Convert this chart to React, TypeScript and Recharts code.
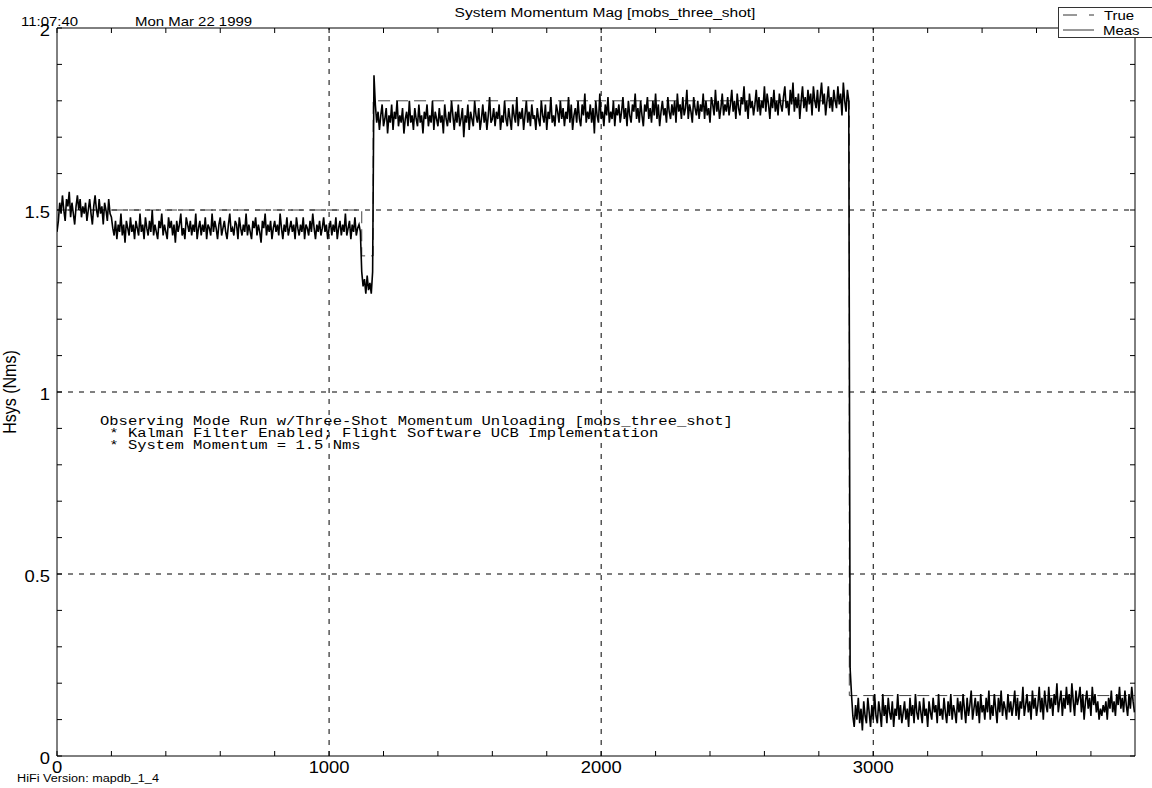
import React from 'react';
import { LineChart, Line, XAxis, YAxis, ReferenceLine } from 'recharts';

// Sample spacing of the measured momentum record, seconds
const SAMPLE_STEP = 5;

// Measured |H| segments (Nms), each with its start time (s)
const measStartA = 0;
const measSegA = [
  1.44, 1.47, 1.52, 1.49, 1.54, 1.50, 1.47, 1.53, 1.51, 1.55, 1.48, 1.52, 1.49, 1.46, 1.51, 1.54, 1.50, 1.53, 1.48, 1.51,
  1.49, 1.52, 1.47, 1.50, 1.53, 1.49, 1.46, 1.51, 1.54, 1.50, 1.48, 1.53, 1.49, 1.51, 1.46, 1.52, 1.50, 1.47, 1.53, 1.49,
];

const measStartB = 200;
const measSegB = [
  1.48, 1.45, 1.43, 1.47, 1.42, 1.46, 1.44, 1.49, 1.43, 1.46, 1.41, 1.47, 1.45, 1.43, 1.48, 1.44, 1.46, 1.42, 1.47, 1.45,
  1.43, 1.49, 1.44, 1.46, 1.42, 1.48, 1.45, 1.43, 1.47, 1.44, 1.50, 1.43, 1.46, 1.44, 1.42, 1.47, 1.45, 1.49, 1.43, 1.46,
  1.44, 1.42, 1.48, 1.45, 1.47, 1.43, 1.46, 1.41, 1.47, 1.44, 1.46, 1.49, 1.43, 1.45, 1.42, 1.48, 1.46, 1.44, 1.47, 1.43,
  1.46, 1.44, 1.49, 1.42, 1.45, 1.47, 1.43, 1.46, 1.44, 1.48, 1.42, 1.46, 1.45, 1.43, 1.49, 1.44, 1.47, 1.45, 1.42, 1.46,
  1.48, 1.43, 1.45, 1.47, 1.44, 1.42, 1.46, 1.49, 1.44, 1.45, 1.43, 1.47, 1.46, 1.42, 1.48, 1.45, 1.43, 1.46, 1.44, 1.49,
  1.43, 1.46, 1.44, 1.42, 1.47, 1.45, 1.48, 1.43, 1.46, 1.44, 1.41, 1.47, 1.45, 1.49, 1.43, 1.46, 1.44, 1.47, 1.42, 1.45,
  1.47, 1.44, 1.46, 1.43, 1.49, 1.45, 1.42, 1.46, 1.44, 1.48, 1.43, 1.45, 1.47, 1.44, 1.46, 1.42, 1.48, 1.45, 1.43, 1.46,
  1.44, 1.48, 1.42, 1.46, 1.45, 1.43, 1.47, 1.44, 1.49, 1.45, 1.42, 1.46, 1.44, 1.47, 1.43, 1.45, 1.48, 1.44, 1.46, 1.42,
  1.45, 1.47, 1.43, 1.46, 1.44, 1.48, 1.42, 1.45, 1.47, 1.43, 1.46, 1.44, 1.49, 1.43, 1.45, 1.47, 1.42, 1.46, 1.44, 1.48,
  1.43, 1.45, 1.46, 1.44,
];

const measStartC = 1120;
const measSegC = [1.33, 1.29, 1.31, 1.27, 1.32, 1.28, 1.30, 1.27, 1.33];

const measStartD = 1165;
const measSegD = [
  1.87, 1.79, 1.74, 1.77, 1.72, 1.76, 1.79, 1.73, 1.75, 1.78, 1.71, 1.76, 1.74, 1.79, 1.72, 1.77, 1.75, 1.80, 1.73, 1.76,
  1.74, 1.78, 1.71, 1.75, 1.77, 1.73, 1.80, 1.74, 1.76, 1.72, 1.78, 1.75, 1.73, 1.79, 1.74, 1.76, 1.71, 1.77, 1.75, 1.79,
  1.73, 1.76, 1.74, 1.80, 1.72, 1.77, 1.75, 1.73, 1.78, 1.74, 1.76, 1.71, 1.79, 1.75, 1.73, 1.77, 1.74, 1.80, 1.76, 1.72,
  1.77, 1.74, 1.79, 1.73, 1.75, 1.78, 1.70, 1.76, 1.74, 1.79, 1.72, 1.77, 1.75, 1.73, 1.80, 1.76, 1.74, 1.78, 1.72, 1.75,
  1.79, 1.74, 1.77, 1.72, 1.76, 1.81, 1.74, 1.75, 1.78, 1.73, 1.77, 1.75, 1.79, 1.72, 1.76, 1.74, 1.80, 1.75, 1.73, 1.78,
  1.75, 1.72, 1.79, 1.76, 1.74, 1.81, 1.73, 1.77, 1.75, 1.78, 1.72, 1.76, 1.80, 1.74, 1.77, 1.73, 1.79, 1.75, 1.76, 1.72,
  1.78, 1.75, 1.73, 1.80, 1.76, 1.74, 1.79, 1.72, 1.77, 1.75, 1.81, 1.74, 1.76, 1.73, 1.79, 1.77, 1.74, 1.80, 1.75, 1.78,
  1.73, 1.77, 1.75, 1.81, 1.74, 1.79, 1.72, 1.76, 1.78, 1.74, 1.80, 1.75, 1.73, 1.79, 1.76, 1.82, 1.74, 1.77, 1.75, 1.79,
  1.74, 1.78, 1.71, 1.80, 1.76, 1.74, 1.82, 1.75, 1.77, 1.73, 1.79, 1.76, 1.81, 1.74, 1.77, 1.75, 1.80, 1.73, 1.78, 1.76,
  1.79, 1.74, 1.77, 1.81, 1.75, 1.78, 1.73, 1.80, 1.76, 1.74, 1.79, 1.77, 1.82, 1.75, 1.78, 1.74, 1.80, 1.76, 1.73, 1.79,
  1.77, 1.81, 1.75, 1.78, 1.74, 1.80, 1.76, 1.82, 1.75, 1.79, 1.73, 1.77, 1.80, 1.76, 1.78, 1.74, 1.81, 1.77, 1.75, 1.79,
  1.76, 1.80, 1.74, 1.82, 1.77, 1.79, 1.75, 1.81, 1.76, 1.78, 1.83, 1.75, 1.79, 1.77, 1.74, 1.81, 1.78, 1.76, 1.80, 1.75,
  1.79, 1.77, 1.82, 1.75, 1.80, 1.76, 1.78, 1.74, 1.81, 1.79, 1.76, 1.83, 1.77, 1.80, 1.75, 1.78, 1.82, 1.76, 1.79, 1.77,
  1.81, 1.76, 1.79, 1.83, 1.77, 1.80, 1.75, 1.82, 1.78, 1.76, 1.81, 1.79, 1.84, 1.77, 1.80, 1.75, 1.82, 1.78, 1.80, 1.76,
  1.79, 1.83, 1.77, 1.81, 1.76, 1.80, 1.78, 1.84, 1.77, 1.82, 1.79, 1.75, 1.81, 1.78, 1.83, 1.77, 1.80, 1.76, 1.82, 1.79,
  1.77, 1.81, 1.84, 1.78, 1.80, 1.76, 1.83, 1.79, 1.85, 1.77, 1.81, 1.78, 1.82, 1.75, 1.80, 1.84, 1.78, 1.81, 1.77, 1.83,
  1.79, 1.82, 1.76, 1.84, 1.80, 1.78, 1.83, 1.77, 1.81, 1.85, 1.79, 1.82, 1.76, 1.80, 1.84, 1.78, 1.81, 1.77, 1.83, 1.80,
  1.78, 1.84, 1.79, 1.82, 1.76, 1.85, 1.80, 1.77, 1.83, 1.80,
];

const measStartE = 2915;
const measSegE = [
  0.24, 0.17, 0.11, 0.08, 0.14, 0.10, 0.16, 0.09, 0.13, 0.07, 0.15, 0.11, 0.09, 0.16, 0.12, 0.08, 0.14, 0.10, 0.17, 0.11,
  0.09, 0.15, 0.12, 0.08, 0.17, 0.11, 0.14, 0.09, 0.16, 0.12, 0.10, 0.15, 0.08, 0.13, 0.11, 0.17, 0.10, 0.14, 0.09, 0.12,
  0.15, 0.10, 0.13, 0.08, 0.16, 0.11, 0.14, 0.09, 0.17, 0.12, 0.10, 0.15, 0.12, 0.09, 0.16, 0.11, 0.13, 0.08, 0.15, 0.12,
  0.10, 0.16, 0.12, 0.14, 0.09, 0.17, 0.11, 0.13, 0.10, 0.16, 0.12, 0.09, 0.15, 0.11, 0.17, 0.10, 0.14, 0.12, 0.09, 0.16,
  0.12, 0.15, 0.10, 0.17, 0.13, 0.09, 0.16, 0.11, 0.14, 0.18, 0.10, 0.13, 0.16, 0.11, 0.15, 0.09, 0.17, 0.12, 0.14, 0.10,
  0.16, 0.12, 0.18, 0.10, 0.14, 0.11, 0.17, 0.13, 0.09, 0.16, 0.12, 0.18, 0.11, 0.15, 0.13, 0.10, 0.17, 0.12, 0.15, 0.11,
  0.14, 0.18, 0.11, 0.16, 0.10, 0.15, 0.13, 0.19, 0.11, 0.14, 0.17, 0.12, 0.15, 0.10, 0.18, 0.13, 0.16, 0.11, 0.14, 0.19,
  0.12, 0.16, 0.10, 0.18, 0.14, 0.12, 0.19, 0.13, 0.16, 0.11, 0.17, 0.14, 0.20, 0.12, 0.15, 0.18, 0.11, 0.16, 0.13, 0.19,
  0.14, 0.17, 0.12, 0.20, 0.15, 0.11, 0.18, 0.14, 0.16, 0.19, 0.12, 0.17, 0.10, 0.15, 0.18, 0.13, 0.16, 0.11, 0.19, 0.14,
  0.17, 0.12, 0.15, 0.10, 0.13, 0.11, 0.14, 0.12, 0.15, 0.10, 0.16, 0.13, 0.18, 0.12, 0.15, 0.11, 0.17, 0.14, 0.19, 0.13,
  0.16, 0.12, 0.18, 0.14, 0.11, 0.17, 0.13, 0.19, 0.15, 0.12,
];

// Commanded ("True") system momentum, piecewise constant
const trueTimes = [0, 1120, 1120, 1162, 1162, 2912, 2912, 3962];
const trueValues = [1.5, 1.5, 1.374, 1.374, 1.8, 1.8, 0.166, 0.166];

// Axis ticks
const xDomain = [0, 3962];
const xTicks = [0, 200, 400, 600, 800, 1000, 1200, 1400, 1600, 1800, 2000, 2200, 2400, 2600, 2800, 3000, 3200, 3400, 3600, 3800];
const xLabelled = [0, 1000, 2000, 3000];
const yTicks = [0, 0.1, 0.2, 0.3, 0.4, 0.5, 0.6, 0.7, 0.8, 0.9, 1, 1.1, 1.2, 1.3, 1.4, 1.5, 1.6, 1.7, 1.8, 1.9, 2];
const yLabelled = [0, 0.5, 1, 1.5, 2];
const gridX = [1000, 2000, 3000];
const gridY = [0.5, 1, 1.5];

const noteLines = [
  'Observing Mode Run w/Three-Shot Momentum Unloading [mobs_three_shot]',
  ' * Kalman Filter Enabled; Flight Software UCB Implementation',
  ' * System Momentum = 1.5 Nms',
];

const buildSeries = (start: number, values: number[]) =>
  values.map((v, i) => ({ t: start + i * SAMPLE_STEP, v }));

const measData = [
  ...buildSeries(measStartA, measSegA),
  ...buildSeries(measStartB, measSegB),
  ...buildSeries(measStartC, measSegC),
  ...buildSeries(measStartD, measSegD),
  ...buildSeries(measStartE, measSegE),
];
const trueData = trueTimes.map((t, i) => ({ t, v: trueValues[i] }));

const SANS = '"Liberation Sans", Arial, Helvetica, sans-serif';
const MONO = '"Liberation Mono", "Courier New", monospace';
const SX = 1.15; // glyphs are drawn slightly wide
const TICK = 5;

const isLabelled = (list: number[], v: number) => list.some((l) => Math.abs(l - v) < 1e-9);

const BottomTick = (props: any) => {
  const { x, y, payload } = props;
  const v = payload.value;
  return (
    <g>
      <line x1={x} x2={x} y1={y} y2={y - TICK} stroke="#000" strokeWidth={1} />
      {isLabelled(xLabelled, v) && (
        <text transform={`translate(${x},${y + 17}) scale(${SX},1)`} textAnchor="middle" fontFamily={SANS} fontSize={16} fill="#000">
          {v}
        </text>
      )}
    </g>
  );
};

const TopTick = (props: any) => {
  const { x, y } = props;
  return <line x1={x} x2={x} y1={y} y2={y + TICK} stroke="#000" strokeWidth={1} />;
};

const LeftTick = (props: any) => {
  const { x, y, payload } = props;
  const v = payload.value;
  return (
    <g>
      <line x1={x} x2={x + TICK} y1={y} y2={y} stroke="#000" strokeWidth={1} />
      {isLabelled(yLabelled, v) && (
        <text transform={`translate(${x - 7},${y + 8}) scale(${SX},1)`} textAnchor="end" fontFamily={SANS} fontSize={16} fill="#000">
          {v}
        </text>
      )}
    </g>
  );
};

const RightTick = (props: any) => {
  const { x, y } = props;
  return <line x1={x} x2={x - TICK} y1={y} y2={y} stroke="#000" strokeWidth={1} />;
};

const Label = ({ x, y, size, children, anchor = 'start', family = SANS, sx = SX }: any) => (
  <text
    transform={`translate(${x},${y}) scale(${sx},1)`}
    textAnchor={anchor}
    fontFamily={family}
    fontSize={size}
    fill="#000"
    xmlSpace="preserve"
  >
    {children}
  </text>
);

export default function App() {
  return (
    <div style={{ position: 'absolute', left: 0, top: 0, width: 1152, height: 788, background: '#fff' }}>
      <div style={{ position: 'absolute', left: 0, top: 0 }}>
        <LineChart width={1152} height={788} margin={{ top: 0, right: 0, bottom: 0, left: 0 }}>
          <XAxis
            xAxisId="b"
            orientation="bottom"
            type="number"
            dataKey="t"
            domain={xDomain}
            allowDataOverflow
            ticks={xTicks}
            interval={0}
            height={32}
            tickSize={0}
            tickMargin={0}
            tickLine={false}
            axisLine={{ stroke: '#000', strokeWidth: 1 }}
            tick={<BottomTick />}
          />
          <XAxis
            xAxisId="t"
            orientation="top"
            type="number"
            dataKey="t"
            domain={xDomain}
            allowDataOverflow
            ticks={xTicks}
            interval={0}
            height={28}
            tickSize={0}
            tickMargin={0}
            tickLine={false}
            axisLine={{ stroke: '#000', strokeWidth: 1 }}
            tick={<TopTick />}
          />
          <YAxis
            yAxisId="l"
            orientation="left"
            type="number"
            domain={[0, 2]}
            allowDataOverflow
            ticks={yTicks}
            interval={0}
            width={57}
            tickSize={0}
            tickMargin={0}
            tickLine={false}
            axisLine={{ stroke: '#000', strokeWidth: 1 }}
            tick={<LeftTick />}
          />
          <YAxis
            yAxisId="r"
            orientation="right"
            type="number"
            domain={[0, 2]}
            allowDataOverflow
            ticks={yTicks}
            interval={0}
            width={17}
            tickSize={0}
            tickMargin={0}
            tickLine={false}
            axisLine={{ stroke: '#000', strokeWidth: 1 }}
            tick={<RightTick />}
          />
          {gridX.map((g) => (
            <ReferenceLine key={`gx${g}`} xAxisId="b" yAxisId="l" x={g} stroke="#000" strokeWidth={1} strokeDasharray="5 6" />
          ))}
          {gridY.map((g) => (
            <ReferenceLine key={`gy${g}`} xAxisId="b" yAxisId="l" y={g} stroke="#000" strokeWidth={1} strokeDasharray="5 6" />
          ))}
          <Line
            xAxisId="b"
            yAxisId="l"
            data={trueData}
            dataKey="v"
            type="linear"
            stroke="#444"
            strokeWidth={1}
            strokeDasharray="12 6"
            dot={false}
            activeDot={false}
            isAnimationActive={false}
          />
          <Line
            xAxisId="b"
            yAxisId="l"
            data={measData}
            dataKey="v"
            type="linear"
            stroke="#000"
            strokeWidth={1.6}
            dot={false}
            activeDot={false}
            isAnimationActive={false}
          />
        </LineChart>
      </div>
      <svg
        width={1152}
        height={788}
        style={{ position: 'absolute', left: 0, top: 0, pointerEvents: 'none' }}
      >
        <Label x={605} y={17} size={13.5} anchor="middle">System Momentum Mag [mobs_three_shot]</Label>
        <Label x={21} y={26} size={13}>11:07:40</Label>
        <Label x={135} y={26} size={13}>Mon Mar 22 1999</Label>
        <text
          transform={`translate(16,392) rotate(-90) scale(1,${SX})`}
          textAnchor="middle"
          fontFamily={SANS}
          fontSize={16}
          fill="#000"
        >
          Hsys (Nms)
        </text>
        {noteLines.map((line, i) => (
          <Label key={i} x={100} y={425 + i * 12} size={13.5} family={MONO}>
            {line}
          </Label>
        ))}
        <Label x={17} y={782} size={11}>HiFi Version: mapdb_1_4</Label>
        <g>
          <rect x={1058.5} y={7.5} width={100} height={30} fill="#fff" stroke="#333" strokeWidth={1} />
          <line x1={1063} x2={1094} y1={15} y2={15} stroke="#333" strokeWidth={1} strokeDasharray="14 12 5" />
          <line x1={1063} x2={1094} y1={30} y2={30} stroke="#333" strokeWidth={1} />
          <Label x={1104} y={19.5} size={13}>True</Label>
          <Label x={1103} y={34.5} size={13}>Meas</Label>
        </g>
      </svg>
    </div>
  );
}
